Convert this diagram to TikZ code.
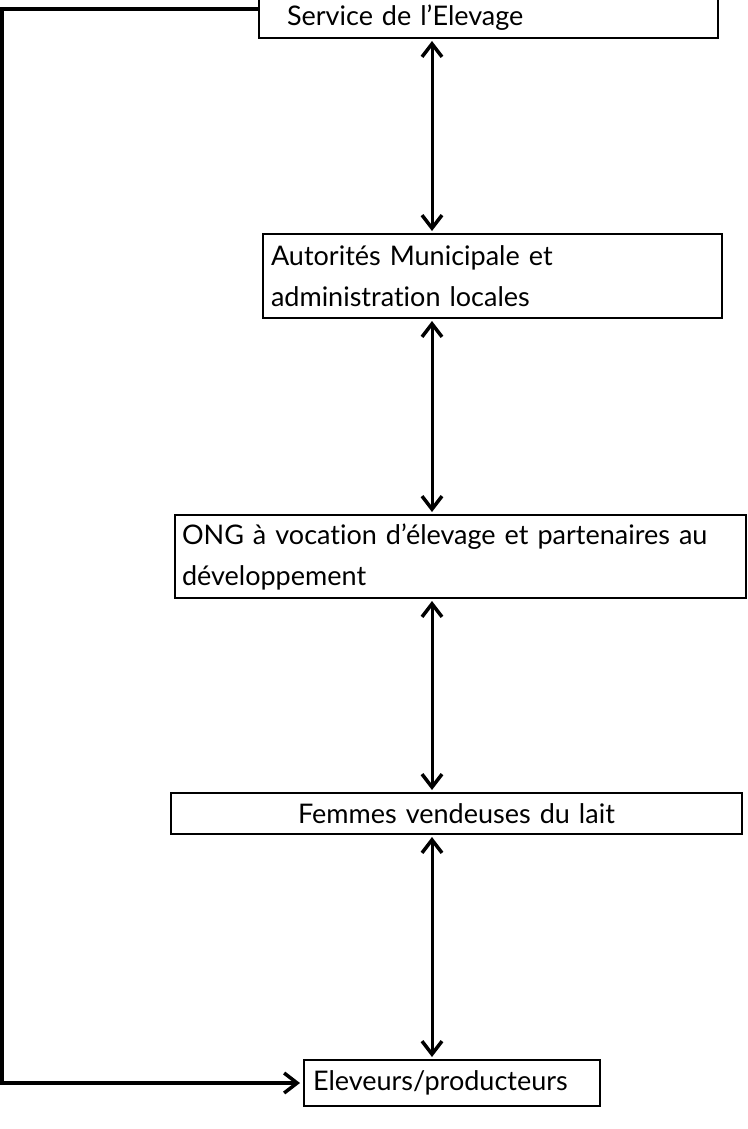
\documentclass[tikz,border=0pt]{standalone}
\usepackage{fontspec}
\setmainfont{Lato}[Ligatures=NoCommon]
\usetikzlibrary{arrows.meta}
\begin{document}
\begin{tikzpicture}[x=1pt,y=-1pt,
  box/.style={draw, line width=2pt, rectangle, inner ysep=0pt,
    font=\fontsize{27}{41}\selectfont},
  link/.style={line width=3pt, {Straight Barb[length=13pt,width=20pt,line width=3.5pt]}-{Straight Barb[length=13pt,width=20pt,line width=3.5pt]}, shorten <=2pt, shorten >=2pt},
  conn/.style={line width=4pt, -{Straight Barb[length=13pt,width=20pt,line width=3.5pt]}, shorten >=3pt}
]
\clip (0,0) rectangle (747,1129);
\coordinate (ax) at (432,0);
\coordinate (lx) at (2,0);
\node[box, inner xsep=28pt, text width=403pt, align=left, minimum height=40pt] (serv) at (488.5,18) {Service de l’Elevage};
\node[box, inner xsep=8pt, text width=443pt, align=left, minimum height=84pt] (auto) at (492.5,276) {Autorités Municipale et\\administration locales};
\node[box, inner xsep=7pt, text width=557pt, align=left, minimum height=83pt] (ong) at (460.5,556.5) {ONG à vocation d’élevage et partenaires au\\développement};
\node[box, inner xsep=7pt, text width=557pt, align=center, minimum height=41pt] (fem) at (456.5,813.5) {Femmes vendeuses du lait};
\node[box, inner xsep=9pt, text width=278pt, align=left, minimum height=46pt] (elev) at (452,1083) {Eleveurs/producteurs};
\draw[link] (serv.south -| ax) -- (auto.north -| ax);
\draw[link] (auto.south -| ax) -- (ong.north -| ax);
\draw[link] (ong.south -| ax) -- (fem.north -| ax);
\draw[link] (fem.south -| ax) -- (elev.north -| ax);
\draw[conn] ([yshift=9pt]serv.west) -| (lx |- elev.west) -- (elev.west);
\end{tikzpicture}
\end{document}
